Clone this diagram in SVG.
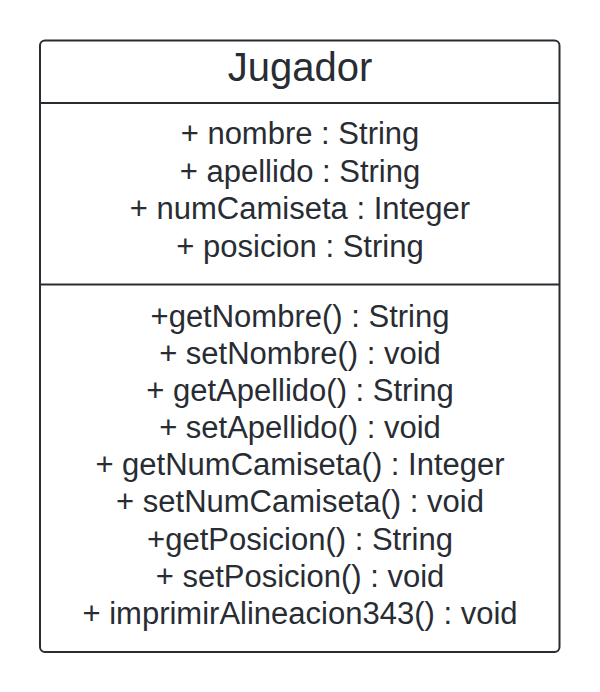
<svg xmlns="http://www.w3.org/2000/svg" width="600" height="692" viewBox="0 0 600 692">
<style>
.box{fill:#ffffff;stroke:#282c33;stroke-width:2}
.div{stroke:#282c33;stroke-width:2}
.t{font-family:"Liberation Sans",Arial,sans-serif;fill:#282c33;text-anchor:middle;font-size:31px}
.title{font-size:40px}
</style>
<rect width="600" height="692" fill="#ffffff"/>
<g id="Jugador">
<rect class="box" x="40" y="40.5" width="519.5" height="611.5" rx="5"/>
<line class="div" x1="40" y1="103" x2="559.5" y2="103"/>
<line class="div" x1="40" y1="284.5" x2="559.5" y2="284.5"/>
<text class="t title" x="300" y="80.5">Jugador</text>
<text class="t" x="300" y="144">+ nombre : String</text>
<text class="t" x="300" y="181.5">+ apellido : String</text>
<text class="t" x="300" y="219">+ numCamiseta : Integer</text>
<text class="t" x="300" y="256.5">+ posicion : String</text>
<text class="t" x="300" y="326.5">+getNombre() : String</text>
<text class="t" x="300" y="363.5">+ setNombre() : void</text>
<text class="t" x="300" y="400.5">+ getApellido() : String</text>
<text class="t" x="300" y="438">+ setApellido() : void</text>
<text class="t" x="300" y="475">+ getNumCamiseta() : Integer</text>
<text class="t" x="300" y="512">+ setNumCamiseta() : void</text>
<text class="t" x="300" y="549.5">+getPosicion() : String</text>
<text class="t" x="300" y="587">+ setPosicion() : void</text>
<text class="t" x="300" y="624">+ imprimirAlineacion343() : void</text>
</g>
</svg>
